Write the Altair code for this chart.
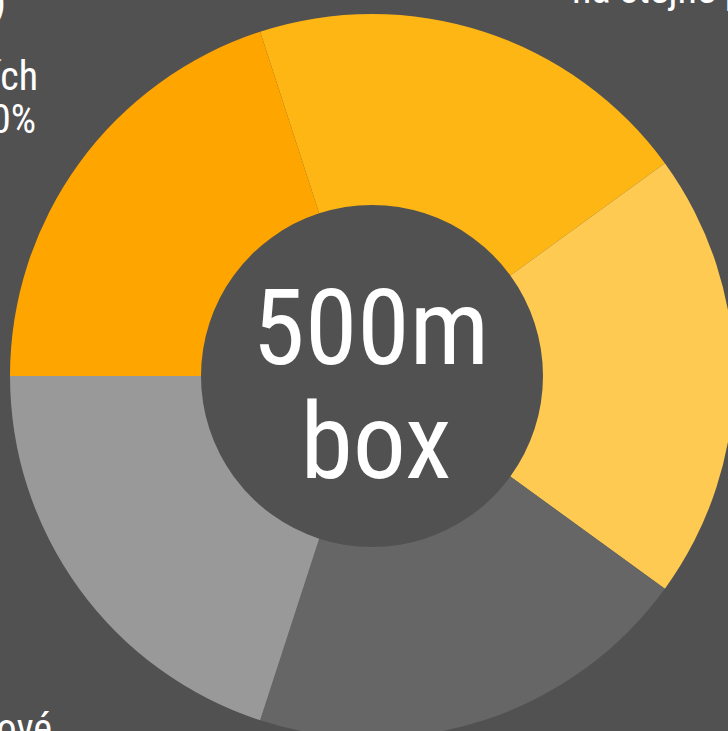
import math
import altair as alt
import pandas as pd

# Data
categories = ["na stejné pozici", "segment 2", "segment 3", "sportové", "v ostatních"]
values = [20, 20, 20, 20, 20]
colors = ["#FDB614", "#FECA52", "#666666", "#999999", "#FFA500"]

center_line1 = "500m"
center_line2 = "box"

BG = "#515151"
FONT = "Liberation Sans Narrow, Roboto Condensed, Roboto, sans-serif"

df = pd.DataFrame({"category": categories, "value": values,
                   "order": list(range(len(categories)))})

start = -math.pi / 10
donut = alt.Chart(df).mark_arc(innerRadius=171, outerRadius=362).encode(
    theta=alt.Theta("value:Q", stack=True,
                    scale=alt.Scale(range=[start, start + 2 * math.pi])),
    color=alt.Color("category:N", scale=alt.Scale(domain=categories, range=colors),
                    legend=None),
    order=alt.Order("order:Q"),
    x=alt.value(372),
    y=alt.value(376),
)

labels_df = pd.DataFrame({
    "text": [center_line1, center_line2],
    "x": [371, 376],
    "y": [364, 478],
})
center = alt.Chart(labels_df).mark_text(
    font=FONT, fontSize=106, color="white", align="center",
    baseline="alphabetic"
).encode(text="text:N", x=alt.X("x:Q", scale=None), y=alt.Y("y:Q", scale=None))

outer_df = pd.DataFrame({
    "text": ["(skóre)", "skóre v ostatních", "na 20%", "na stejné pozici", "sportové"],
    "x": [6, 38, 36, 572, 52],
    "y": [16, 90, 133, 3, 742],
    "align": ["right", "right", "right", "left", "right"],
})
outer_right = alt.Chart(outer_df[outer_df["align"] == "right"]).mark_text(
    font=FONT, fontSize=40, color="white", align="right",
    baseline="alphabetic"
).encode(text="text:N", x=alt.X("x:Q", scale=None), y=alt.Y("y:Q", scale=None))
outer_left = alt.Chart(outer_df[outer_df["align"] == "left"]).mark_text(
    font=FONT, fontSize=40, color="white", align="left",
    baseline="alphabetic"
).encode(text="text:N", x=alt.X("x:Q", scale=None), y=alt.Y("y:Q", scale=None))

chart = alt.layer(donut, center, outer_right, outer_left).properties(
    width=728, height=731, background=BG, padding=0,
    autosize=alt.AutoSizeParams(type="none"),
).configure_view(stroke=None)

chart.save("out.html", embed_options={"renderer": "svg", "actions": False})
